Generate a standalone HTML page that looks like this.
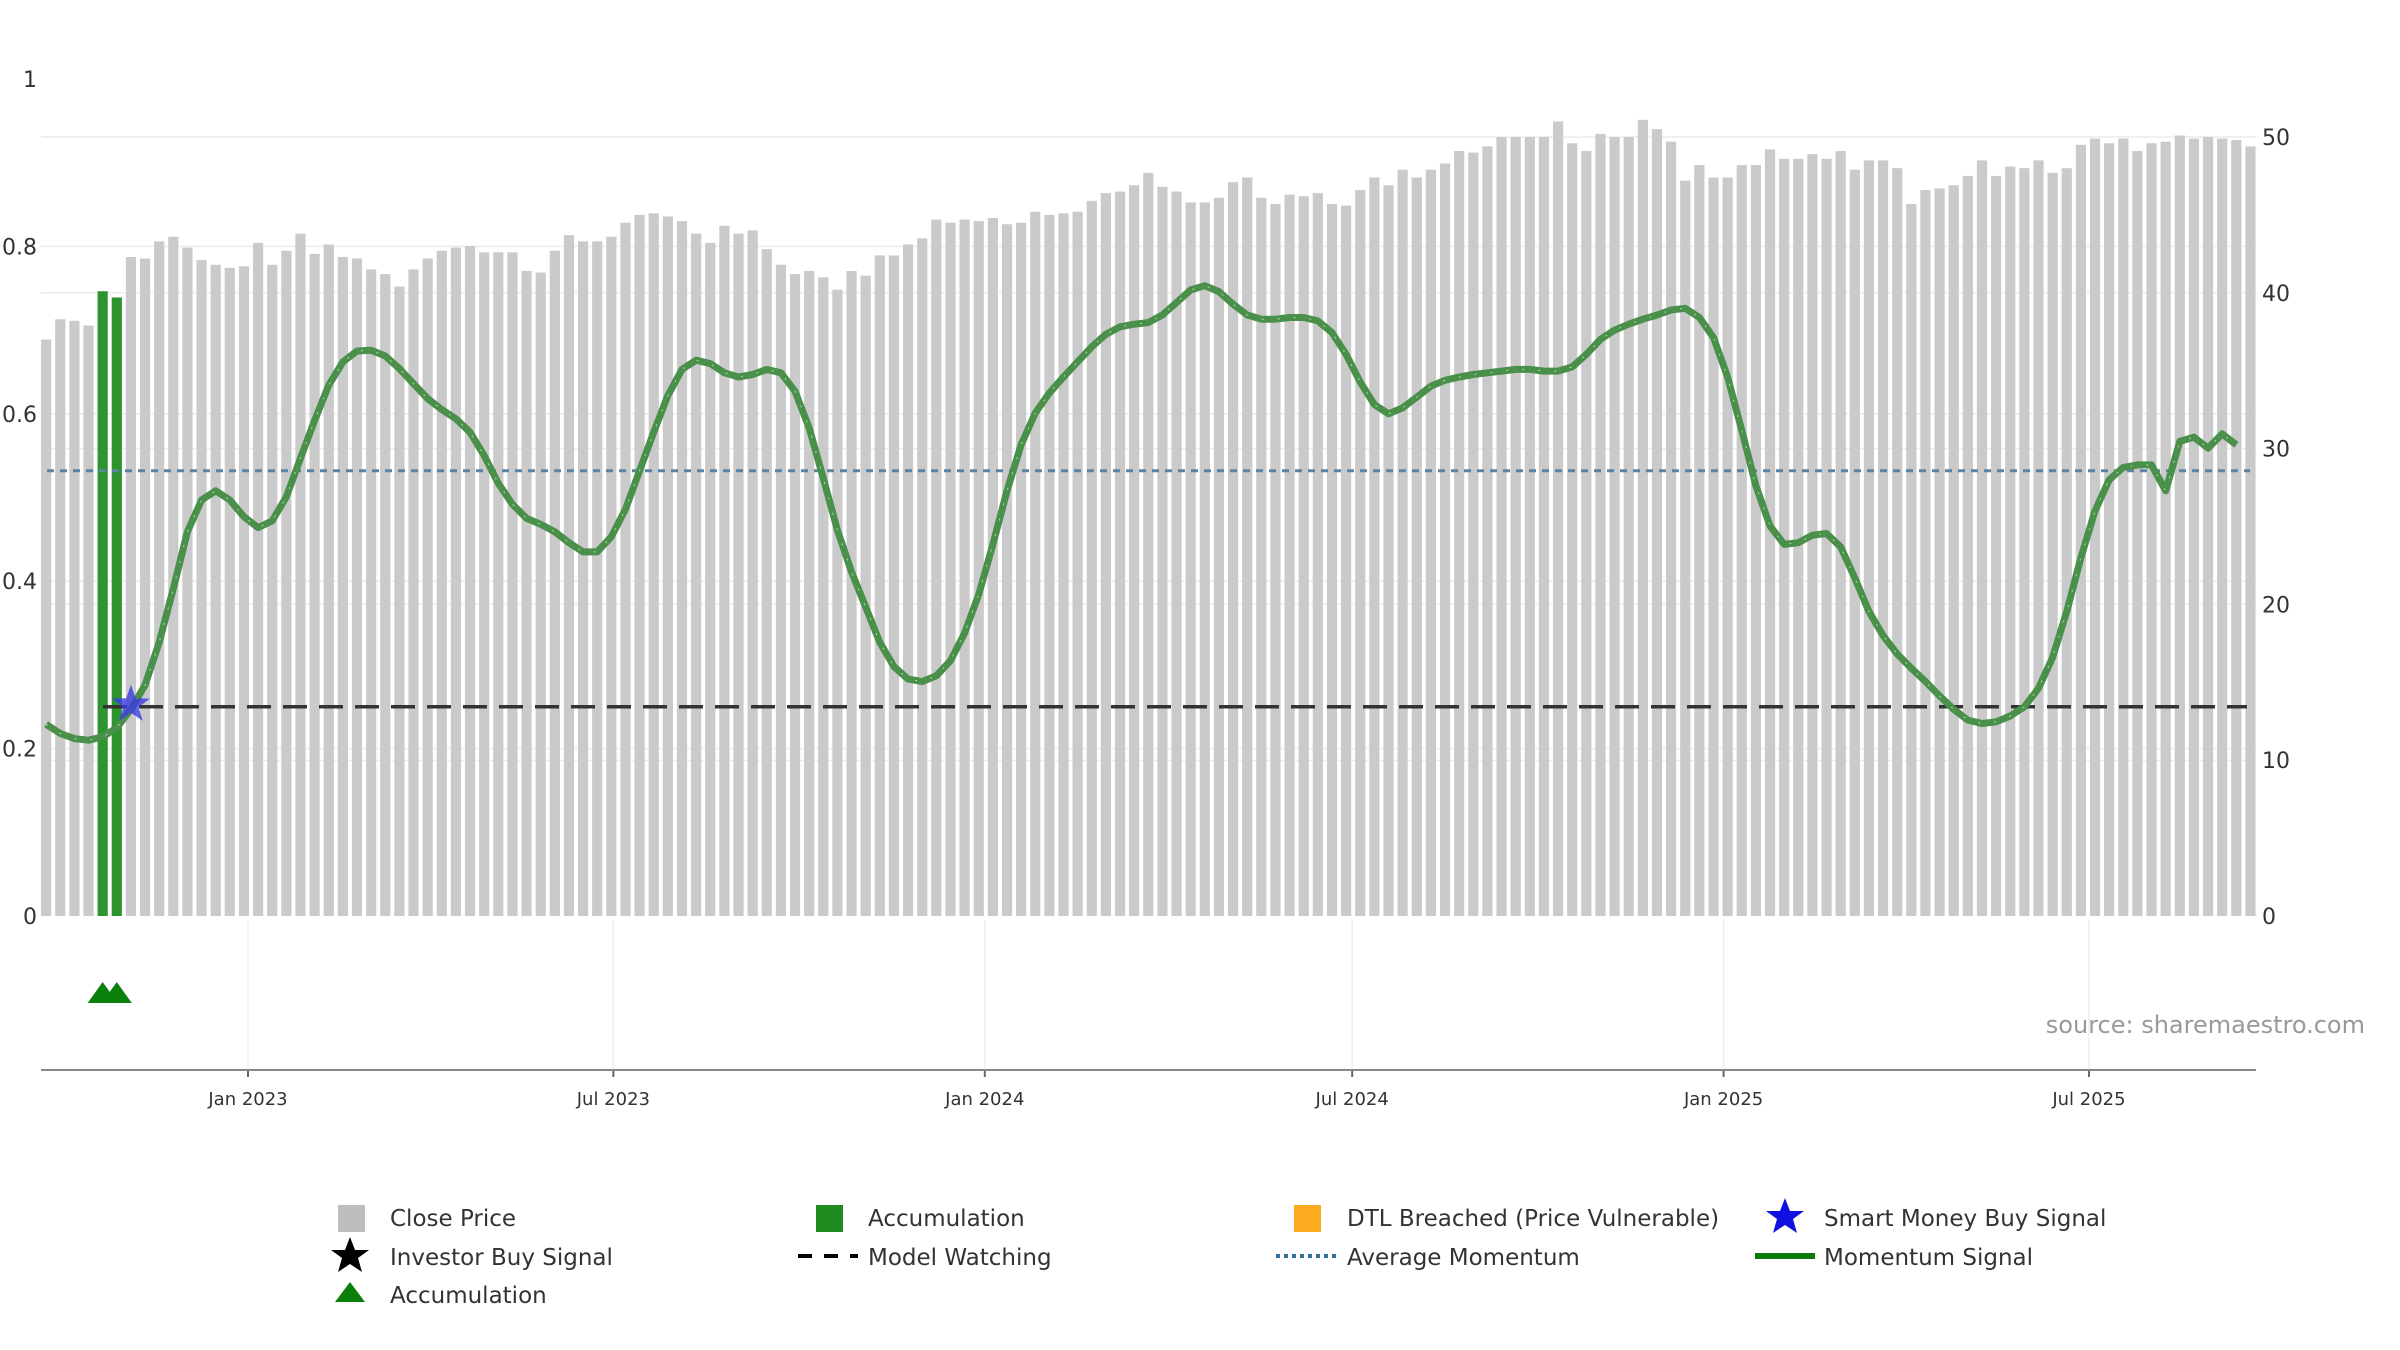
<!DOCTYPE html>
<html><head><meta charset="utf-8"><style>
html,body{margin:0;padding:0;background:#fff;}
svg{display:block;font-family:"DejaVu Sans","Liberation Sans",sans-serif;}
</style></head><body>
<svg id="chart" width="2400" height="1350" viewBox="0 0 2400 1350" xmlns="http://www.w3.org/2000/svg">
<g id="grid"></g>
<g id="bars"></g>
<g id="refs"></g>
<g id="lines"></g>
<g id="marks"></g>
<g id="axes"></g>
<text x="2365" y="1033" text-anchor="end" font-size="24" fill="#999">source: sharemaestro.com</text>
<g id="legend" font-size="23" fill="#333">
 <g><rect x="338" y="1205" width="27" height="27" fill="#bdbdbd"/><text x="390" y="1226">Close Price</text></g>
 <g><rect x="816" y="1205" width="27" height="27" fill="#1f8a1f"/><text x="868" y="1226">Accumulation</text></g>
 <g><rect x="1294" y="1205" width="27" height="27" fill="#fbab1d"/><text x="1347" y="1226">DTL Breached (Price Vulnerable)</text></g>
 <g><polygon points="1785,1198 1790,1211 1804,1211 1793,1219 1797,1233 1785,1225 1773,1233 1777,1219 1766,1211 1780,1211" fill="#1010e0"/><text x="1824" y="1226">Smart Money Buy Signal</text></g>
 <g><polygon points="350,1237 355,1250 369,1250 358,1258 362,1272 350,1264 338,1272 342,1258 331,1250 345,1250" fill="#000"/><text x="390" y="1265">Investor Buy Signal</text></g>
 <g><line x1="798" y1="1256" x2="858" y2="1256" stroke="#000" stroke-width="4" stroke-dasharray="14,12"/><text x="868" y="1265">Model Watching</text></g>
 <g><line x1="1276" y1="1256" x2="1336" y2="1256" stroke="#2f6f9a" stroke-width="4" stroke-dasharray="4,4"/><text x="1347" y="1265">Average Momentum</text></g>
 <g><line x1="1755" y1="1256" x2="1815" y2="1256" stroke="#0a7a0a" stroke-width="6"/><text x="1824" y="1265">Momentum Signal</text></g>
 <g><polygon points="350,1282 365,1302 335,1302" fill="#0a800a"/><text x="390" y="1303">Accumulation</text></g>
</g>
</svg>
<script>
const prices = [37.0,38.3,38.2,37.9,40.1,39.7,42.3,42.2,43.3,43.6,42.9,42.1,41.8,41.6,41.7,43.2,41.8,42.7,43.8,42.5,43.1,42.3,42.2,41.5,41.2,40.4,41.5,42.2,42.7,42.9,43.0,42.6,42.6,42.6,41.4,41.3,42.7,43.7,43.3,43.3,43.6,44.5,45.0,45.1,44.9,44.6,43.8,43.2,44.3,43.8,44.0,42.8,41.8,41.2,41.4,41.0,40.2,41.4,41.1,42.4,42.4,43.1,43.5,44.7,44.5,44.7,44.6,44.8,44.4,44.5,45.2,45.0,45.1,45.2,45.9,46.4,46.5,46.9,47.7,46.8,46.5,45.8,45.8,46.1,47.1,47.4,46.1,45.7,46.3,46.2,46.4,45.7,45.6,46.6,47.4,46.9,47.9,47.4,47.9,48.3,49.1,49.0,49.4,50.0,50.0,50.0,50.0,51.0,49.6,49.1,50.2,50.0,50.0,51.1,50.5,49.7,47.2,48.2,47.4,47.4,48.2,48.2,49.2,48.6,48.6,48.9,48.6,49.1,47.9,48.5,48.5,48.0,45.7,46.6,46.7,46.9,47.5,48.5,47.5,48.1,48.0,48.5,47.7,48.0,49.5,49.9,49.6,49.9,49.1,49.6,49.7,50.1,49.9,50.0,49.9,49.8,49.4];
const momentum = [0.229,0.218,0.212,0.21,0.214,0.225,0.247,0.276,0.327,0.391,0.459,0.497,0.508,0.497,0.477,0.464,0.472,0.501,0.547,0.592,0.634,0.662,0.675,0.676,0.669,0.654,0.636,0.618,0.605,0.594,0.578,0.55,0.517,0.492,0.475,0.468,0.459,0.446,0.435,0.435,0.453,0.486,0.532,0.578,0.622,0.653,0.664,0.66,0.649,0.644,0.647,0.653,0.649,0.627,0.583,0.523,0.461,0.411,0.369,0.327,0.298,0.283,0.28,0.287,0.305,0.338,0.384,0.444,0.508,0.563,0.601,0.625,0.644,0.662,0.68,0.695,0.704,0.707,0.709,0.718,0.733,0.748,0.753,0.746,0.731,0.718,0.713,0.713,0.715,0.715,0.711,0.697,0.671,0.638,0.611,0.6,0.607,0.62,0.633,0.64,0.644,0.647,0.649,0.651,0.653,0.653,0.651,0.651,0.656,0.671,0.689,0.7,0.707,0.713,0.718,0.724,0.726,0.715,0.691,0.644,0.58,0.514,0.466,0.444,0.446,0.455,0.457,0.441,0.404,0.364,0.335,0.313,0.296,0.28,0.263,0.247,0.234,0.23,0.232,0.239,0.25,0.272,0.309,0.364,0.428,0.484,0.521,0.536,0.539,0.539,0.508,0.567,0.572,0.559,0.576,0.563];
const accumulationIdx = [4,5];
const smartMoneyIdx = [6];
const avgMomentum = 0.532;
const modelWatching = 0.25;
const leftTicks = [0,0.2,0.4,0.6,0.8,1];
const leftTickLabels = ["0","0.2","0.4","0.6","0.8","1"];
const rightTicks = [0,10,20,30,40,50];
const xTickDays = [0,181,365,547,731,912];
const xTickLabels = ["Jan 2023","Jul 2023","Jan 2024","Jul 2024","Jan 2025","Jul 2025"];
const firstBarDay = -100;

const NS="http://www.w3.org/2000/svg";
const xDay = d => 248 + 2.0186*d;
const xIdx = i => xDay(firstBarDay + 7*i);
const yL = v => 916 - 837*v;
const yR = v => 916 - 15.58*v;
function mk(tag, attrs, parent){const e=document.createElementNS(NS,tag);for(const k in attrs)e.setAttribute(k,attrs[k]);parent.appendChild(e);return e;}
const grid=document.getElementById('grid'),bars=document.getElementById('bars'),refs=document.getElementById('refs'),lines=document.getElementById('lines'),marks=document.getElementById('marks'),axes=document.getElementById('axes');

leftTicks.forEach((t,i)=>{ if(t>0 && t<1){const g=mk('line',{x1:41,x2:2256,y1:yL(t),y2:yL(t),stroke:'#ececec','stroke-width':1.5},grid);

}
const tx=mk('text',{x:37,y:yL(t)+8,'text-anchor':'end','font-size':22,fill:'#333'},axes);tx.textContent=leftTickLabels[i];

});
rightTicks.forEach(t=>{ if(t>0){const g=mk('line',{x1:41,x2:2256,y1:yR(t),y2:yR(t),stroke:'#ececec','stroke-width':1.5},grid);

}
const tx=mk('text',{x:2262,y:yR(t)+8,'font-size':22,fill:'#333'},axes);tx.textContent=String(t);

});
xTickDays.forEach((d,i)=>{const x=xDay(d);
const g=mk('line',{x1:x,x2:x,y1:920,y2:1070,stroke:'#efefef','stroke-width':1.5},grid);


mk('line',{x1:x,x2:x,y1:1070,y2:1077,stroke:'#666','stroke-width':2},axes);
const tx=mk('text',{x:x,y:1105,'text-anchor':'middle','font-size':18,fill:'#333'},axes);tx.textContent=xTickLabels[i];

});
const ax=mk('line',{x1:41,x2:2256,y1:1070,y2:1070,stroke:'#888','stroke-width':2},axes);



prices.forEach((p,i)=>{const acc=accumulationIdx.includes(i);
const r=mk('rect',{x:xIdx(i)-5.1,y:yR(p),width:10.2,height:916-yR(p),fill:acc?'#2e952e':'#cacaca'},bars);

});

const avg=mk('line',{x1:47,x2:2250,y1:yL(avgMomentum),y2:yL(avgMomentum),stroke:'#5b84a3','stroke-width':3,'stroke-dasharray':'7,6'},refs);


const mw=mk('line',{x1:103,x2:2247,y1:yL(modelWatching),y2:yL(modelWatching),stroke:'#333','stroke-width':3.5,'stroke-dasharray':'24,12'},refs);



const pts=momentum.map((v,i)=>xIdx(i).toFixed(1)+','+yL(v).toFixed(1)).join(' ');
const ml=mk('polyline',{points:pts,fill:'none',stroke:'#4a8f4a','stroke-width':7,'stroke-linejoin':'round'},lines);


const ml2=mk('polyline',{points:pts,fill:'none',stroke:'#bff0bf','stroke-width':1,'stroke-dasharray':'2,14','opacity':0.8},lines);



function star(cx,cy,R,r){let s=[];for(let k=0;k<10;k++){const a=-Math.PI/2+k*Math.PI/5,rr=k%2?r:R;s.push((cx+rr*Math.cos(a)).toFixed(1)+','+(cy+rr*Math.sin(a)).toFixed(1));}return s.join(' ');}
smartMoneyIdx.forEach(i=>{const s=mk('polygon',{points:star(xIdx(i),yL(modelWatching)-2,20,8),fill:'#3a3ae0','fill-opacity':0.8},marks);

});
accumulationIdx.forEach(i=>{const x=xIdx(i);const t=mk('polygon',{points:`${x},982 ${x+15},1003 ${x-15},1003`,fill:'#0a800a'},marks);

});
</script>
</body></html>
